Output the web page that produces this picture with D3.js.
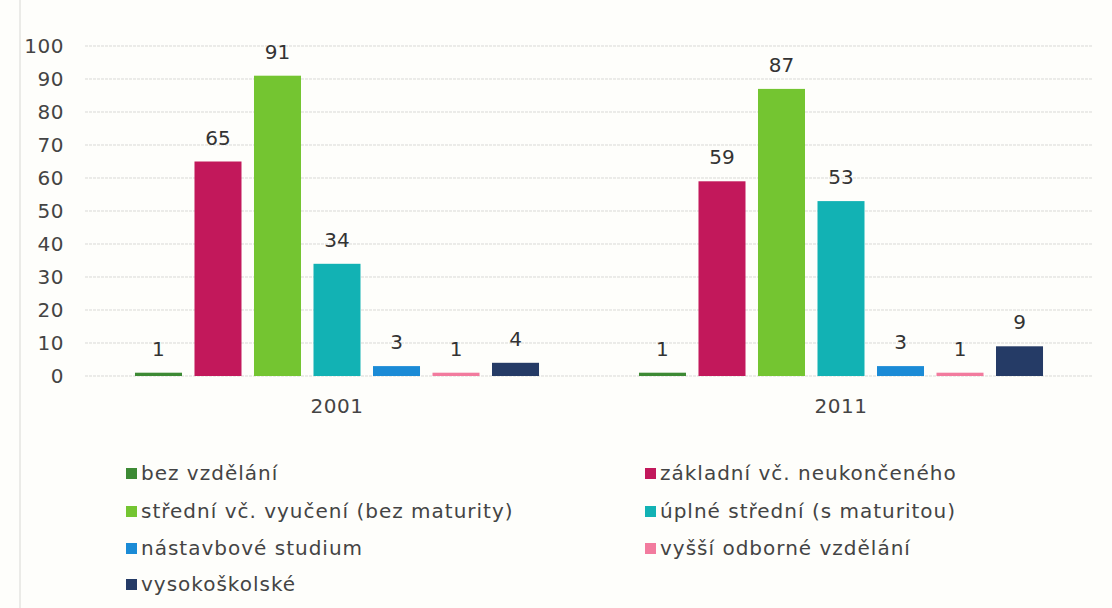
<!DOCTYPE html>
<html><head><meta charset="utf-8">
<script src="https://cdn.jsdelivr.net/npm/d3@7"></script>
<style>
html,body{margin:0;padding:0;background:#fefefb;}
svg{display:block;font-family:"DejaVu Sans",sans-serif;}
</style></head>
<body>
<svg id="c" width="1112" height="608"></svg>
<script>
const years = ["2001", "2011"];
const categories = ["bez vzdělání","základní vč. neukončeného","střední vč. vyučení (bez maturity)","úplné střední (s maturitou)","nástavbové studium","vyšší odborné vzdělání","vysokoškolské"];
const values2001 = [1, 65, 91, 34, 3, 1, 4];
const values2011 = [1, 59, 87, 53, 3, 1, 9];
const colors = ["#3d8a34","#c2185b","#74c531","#12b2b4","#1b8bd6","#f27b9e","#253b66"];
const yTicks = [0,10,20,30,40,50,60,70,80,90,100];

const series = [values2001, values2011];
const svg = d3.select("#c");
const m = {l:85, r:1093, t:46, b:376};

svg.append("line").attr("x1",20).attr("x2",20).attr("y1",0).attr("y2",608).attr("stroke","#d8d8d4").attr("stroke-width",1);

const y = d3.scaleLinear().domain([0,100]).range([m.b, m.t]);
const x0 = d3.scaleBand().domain(years).range([m.l, m.r]).padding(0);
const x1 = d3.scaleBand().domain(d3.range(categories.length)).range([0, x0.bandwidth()]).paddingInner(0.21).paddingOuter(0.84);

// grid
svg.append("g").selectAll("line").data(yTicks).join("line")
  .attr("x1", m.l).attr("x2", m.r)
  .attr("y1", d=>y(d)).attr("y2", d=>y(d))
  .attr("stroke", "#d9d9d6").attr("stroke-width", 1).attr("stroke-dasharray", "3,1");

// y axis
const ya = svg.append("g").attr("transform",`translate(${m.l},0)`)
  .call(d3.axisLeft(y).tickValues(yTicks).tickSize(0).tickPadding(21));
ya.select(".domain").remove();
ya.selectAll("text").attr("font-size",20).attr("fill","#444").attr("letter-spacing",0.5).attr("font-family","DejaVu Sans, sans-serif");

// x axis labels
const xa = svg.append("g").attr("transform",`translate(0,${m.b})`)
  .call(d3.axisBottom(x0).tickSize(0).tickPadding(23));
xa.select(".domain").remove();
xa.selectAll("text").attr("font-size",20).attr("fill","#444").attr("letter-spacing",0.5).attr("font-family","DejaVu Sans, sans-serif");

// bars
years.forEach((yr, gi) => {
  const g = svg.append("g").attr("transform",`translate(${x0(yr)},0)`);
  const data = series[gi].map((v,i)=>({v,i}));
  g.selectAll("rect").data(data).join("rect")
    .attr("x", d=>x1(d.i)).attr("width", x1.bandwidth())
    .attr("y", d=>y(d.v)).attr("height", d=>y(0)-y(d.v))
    .attr("fill", d=>colors[d.i]);
  g.selectAll("text").data(data).join("text")
    .attr("x", d=>x1(d.i)+x1.bandwidth()/2)
    .attr("y", d=>y(d.v)-17)
    .attr("text-anchor","middle").attr("font-size",20).attr("fill","#333")
    .text(d=>d.v);
});

// legend
const legX = [126, 645];
const legY = [473, 511, 548, 584];
categories.forEach((c,i)=>{
  const col = i%2, row = Math.floor(i/2);
  const g = svg.append("g").attr("transform",`translate(${legX[col]},${legY[row]})`);
  g.append("rect").attr("x",0).attr("y",-5).attr("width",11).attr("height",11).attr("fill",colors[i]);
  g.append("text").attr("x",15).attr("y",0).attr("dy","0.35em").attr("font-size",20).attr("letter-spacing",1).attr("fill","#444").text(c);
});
</script>
</body></html>
